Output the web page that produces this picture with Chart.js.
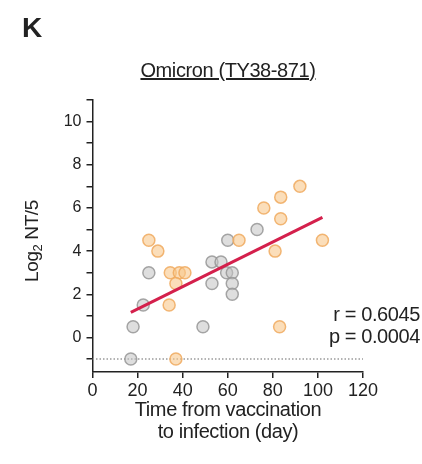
<!DOCTYPE html>
<html>
<head>
<meta charset="utf-8">
<script src="https://cdn.jsdelivr.net/npm/chart.js@4.4.1/dist/chart.umd.min.js"></script>
<style>
  body { margin: 0; background: #fff; font-family: "Liberation Sans", Arial, sans-serif; color: #222; }
  #wrap { position: relative; width: 422px; height: 464px; }
  #chart { position: absolute; left: 0; top: 0; }
  .txt { position: absolute; white-space: nowrap; letter-spacing: -0.4px; }
</style>
</head>
<body>
<div id="wrap">
  <canvas id="chart" width="422" height="464"></canvas>
  <div class="txt" style="left:22px; top:12px; font-size:28px; font-weight:bold; letter-spacing:0;">K</div>
  <div class="txt" style="left:0; width:456px; top:59px; text-align:center; font-size:20px; text-decoration:underline;">Omicron (TY38-871)</div>
  <div class="txt" style="left:33px; top:241px; font-size:19px; transform: translate(-50%, -50%) rotate(-90deg);">Log<sub style="font-size:13px;">2</sub> NT/5</div>
  <div class="txt" style="right:2px; top:303px; font-size:20px; text-align:right;">r = 0.6045</div>
  <div class="txt" style="right:2px; top:325px; font-size:20px; text-align:right;">p = 0.0004</div>
  <div class="txt" style="left:0; width:456px; top:398px; text-align:center; font-size:20px; line-height:22px;">Time from vaccination<br>to infection (day)</div>
</div>
<script>
// vaccinated, gray
const grayDays = [17, 18, 22.5, 25, 49, 53, 57, 53, 59.5, 62, 62, 62, 60, 73];
const grayNT   = [-1, 0.5, 1.5, 3, 0.5, 3.5, 3.5, 2.5, 3, 3, 2.5, 2, 4.5, 5];
// orange
const orangeDays = [25, 29, 34.5, 38.5, 41, 37, 34, 37, 65, 76, 83.5, 92, 83.5, 81, 102, 83];
const orangeNT   = [4.5, 4, 3, 3, 3, 2.5, 1.5, -1, 4.5, 6, 6.5, 7, 5.5, 4, 4.5, 0.5];
// regression line ends
const fitDays = [17, 102];
const fitNT = [1.16, 5.56];
// detection limit
const limitDays = [0, 120];
const limitNT = [-1, -1];

const xTicks = [0, 20, 40, 60, 80, 100, 120];
const yTicks = [-1, 0, 1, 2, 3, 4, 5, 6, 7, 8, 9, 10, 11];

const pts = (xs, ys) => xs.map((x, i) => ({ x: x, y: ys[i] }));

const ink = '#222';

new Chart(document.getElementById('chart'), {
    type: 'scatter',
    data: {
        datasets: [
            {
                type: 'line',
                data: pts(fitDays, fitNT),
                borderColor: '#d4204c',
                borderWidth: 3,
                pointRadius: 0,
                order: 0
            },
            {
                data: pts(orangeDays, orangeNT),
                backgroundColor: 'rgba(248, 200, 140, 0.6)',
                borderColor: 'rgba(240, 170, 95, 0.85)',
                borderWidth: 1.5,
                pointRadius: 6,
                order: 1
            },
            {
                data: pts(grayDays, grayNT),
                backgroundColor: 'rgba(195, 195, 195, 0.55)',
                borderColor: 'rgba(150, 150, 150, 0.85)',
                borderWidth: 1.5,
                pointRadius: 6,
                order: 2
            },
            {
                type: 'line',
                data: pts(limitDays, limitNT),
                borderColor: '#9a9a9a',
                borderWidth: 1.5,
                borderDash: [1.5, 2],
                pointRadius: 0,
                order: 3
            }
        ]
    },
    options: {
        responsive: false,
        animation: false,
        layout: { padding: { left: 0, right: 59, top: 100, bottom: 0 } },
        plugins: { legend: { display: false }, tooltip: { enabled: false } },
        scales: {
            x: {
                type: 'linear',
                min: 0,
                max: 120,
                afterBuildTicks: s => { s.ticks = xTicks.map(v => ({ value: v })); },
                afterFit: s => { s.height = 92; },
                ticks: {
                    color: ink,
                    font: { family: '"Liberation Sans", Arial', size: 18 },
                    padding: 2,
                    maxRotation: 0
                },
                grid: { drawOnChartArea: false, tickLength: 6, color: ink, lineWidth: 1.5 },
                border: { color: ink, width: 1.5 }
            },
            y: {
                min: -1.6,
                max: 11,
                afterBuildTicks: s => { s.ticks = yTicks.map(v => ({ value: v })); },
                afterFit: s => { s.width = 92.5; },
                ticks: {
                    color: ink,
                    font: { family: '"Liberation Sans", Arial', size: 16 },
                    padding: 5,
                    callback: v => (v >= 0 && v % 2 === 0) ? String(v) : ''
                },
                grid: { drawOnChartArea: false, tickLength: 6, color: ink, lineWidth: 1.5 },
                border: { color: ink, width: 1.5 }
            }
        }
    }
});
</script>
</body>
</html>
